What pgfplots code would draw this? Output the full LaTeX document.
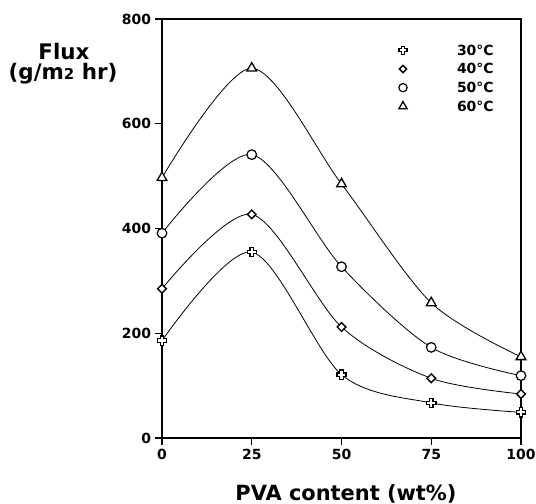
\documentclass[border=0pt]{standalone}
\usepackage{fontspec}
\setmainfont{DejaVu Sans}
\usepackage{pgfplots}
\pgfplotsset{compat=1.18}

% hollow plus marker (outlined Greek cross)
\pgfdeclareplotmark{hplus}{%
  \pgfpathmoveto{\pgfpoint{-0.38\pgfplotmarksize}{\pgfplotmarksize}}%
  \pgfpathlineto{\pgfpoint{0.38\pgfplotmarksize}{\pgfplotmarksize}}%
  \pgfpathlineto{\pgfpoint{0.38\pgfplotmarksize}{0.38\pgfplotmarksize}}%
  \pgfpathlineto{\pgfpoint{\pgfplotmarksize}{0.38\pgfplotmarksize}}%
  \pgfpathlineto{\pgfpoint{\pgfplotmarksize}{-0.38\pgfplotmarksize}}%
  \pgfpathlineto{\pgfpoint{0.38\pgfplotmarksize}{-0.38\pgfplotmarksize}}%
  \pgfpathlineto{\pgfpoint{0.38\pgfplotmarksize}{-\pgfplotmarksize}}%
  \pgfpathlineto{\pgfpoint{-0.38\pgfplotmarksize}{-\pgfplotmarksize}}%
  \pgfpathlineto{\pgfpoint{-0.38\pgfplotmarksize}{-0.38\pgfplotmarksize}}%
  \pgfpathlineto{\pgfpoint{-\pgfplotmarksize}{-0.38\pgfplotmarksize}}%
  \pgfpathlineto{\pgfpoint{-\pgfplotmarksize}{0.38\pgfplotmarksize}}%
  \pgfpathlineto{\pgfpoint{-0.38\pgfplotmarksize}{0.38\pgfplotmarksize}}%
  \pgfpathclose
  \pgfusepathqfillstroke
}
% square diamond (equal width and height)
\pgfdeclareplotmark{sqdiamond}{%
  \pgfpathmoveto{\pgfpoint{0pt}{\pgfplotmarksize}}%
  \pgfpathlineto{\pgfpoint{\pgfplotmarksize}{0pt}}%
  \pgfpathlineto{\pgfpoint{0pt}{-\pgfplotmarksize}}%
  \pgfpathlineto{\pgfpoint{-\pgfplotmarksize}{0pt}}%
  \pgfpathclose
  \pgfusepathqfillstroke
}

\pgfplotstableread{
x   t30  t40  t50  t60
0   186  285  391  497
25  355  427  541  706
50  121  212  327  485
75  67   114  173  258
100 49   84   119  155
}\fluxdata

\begin{document}
\begin{tikzpicture}
\useasboundingbox (0bp,0bp) rectangle (536bp,504bp);
\begin{axis}[
  at={(162bp,66bp)}, anchor=south west,
  scale only axis, width=359bp, height=419bp,
  xmin=0, xmax=100, ymin=0, ymax=800,
  xtick={0,25,50,75,100}, ytick={0,200,400,600,800},
  tick pos=left, tick align=outside, major tick length=7bp,
  axis line style={line width=1.3bp}, tick style={line width=1.4bp, black},
  /pgf/number format/assume math mode=true,
  ticklabel style={font=\fontsize{14}{16}\selectfont\bfseries},
  yticklabel style={xshift=-0.5bp},
  xticklabel style={yshift=-1bp},
  clip=false,
  legend style={at={(0.6546,0.9373)}, anchor=north west, draw=none, fill=none,
    inner sep=0pt, outer sep=0pt, column sep=0pt, row sep=8.7bp,
    nodes={inner sep=0pt, text height=9.5bp, text depth=0pt,
      font=\fontsize{14}{16}\selectfont\bfseries}},
  legend cell align=left,
  legend image code/.code={\path[draw=none] (0bp,-5bp) rectangle (60bp,5bp);
    \draw[#1, every mark/.append style={scale=0.86}] plot coordinates {(6bp,0bp)};},
]
\addplot[black, line width=0.8bp, smooth, forget plot] table[x=x,y=t30] {\fluxdata};
\addplot[black, line width=0.8bp, smooth, forget plot] table[x=x,y=t40] {\fluxdata};
\addplot[black, line width=0.8bp, smooth, forget plot] table[x=x,y=t50] {\fluxdata};
\addplot[black, line width=0.8bp, smooth, forget plot] table[x=x,y=t60] {\fluxdata};

\addplot[only marks, mark=hplus, mark size=4.6bp,
  mark options={fill=white, draw=black, line width=1.3bp}] table[x=x,y=t30] {\fluxdata};
\addlegendentry{30°C}
\addplot[only marks, mark=sqdiamond, mark size=4.3bp,
  mark options={fill=white, draw=black, line width=1.4bp}] table[x=x,y=t40] {\fluxdata};
\addlegendentry{40°C}
\addplot[only marks, mark=*, mark size=4.8bp,
  mark options={fill=white, draw=black, line width=1.2bp}] table[x=x,y=t50] {\fluxdata};
\addlegendentry{50°C}
\addplot[only marks, mark=triangle*, mark size=5.6bp,
  mark options={fill=white, draw=black, line width=1.3bp}] table[x=x,y=t60] {\fluxdata};
\addlegendentry{60°C}
% heavier left spine as in the scan
\draw[line width=2.6bp] (rel axis cs:0,0) -- (rel axis cs:0,1);
\end{axis}
\node[anchor=base, font=\fontsize{21.5}{24}\selectfont\bfseries] at (64bp,444bp) {Flux};
\node[anchor=base, font=\fontsize{21.5}{24}\selectfont\bfseries] at (63bp,424bp)
  {(g/m{\fontsize{15}{15}\selectfont 2} hr)};
\node[anchor=base, font=\fontsize{21}{24}\selectfont\bfseries] at (346bp,4bp)
  {PVA content (wt\%)};
\end{tikzpicture}
\end{document}
